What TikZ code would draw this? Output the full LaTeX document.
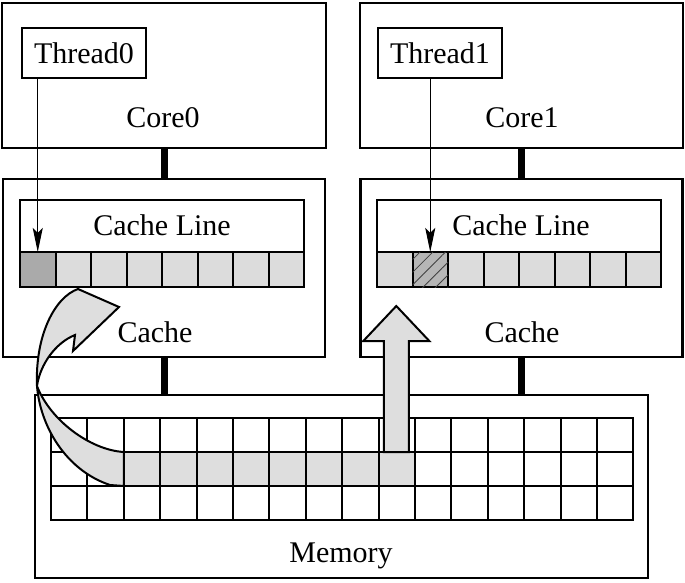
\documentclass[tikz,border=0pt]{standalone}
\usepackage{fontspec}
\setmainfont{Liberation Serif}
\usetikzlibrary{positioning, arrows.meta, calc, patterns.meta}
\definecolor{cellgray}{RGB}{220,220,220}
\definecolor{hitgray}{RGB}{170,170,170}
\definecolor{hatchgray}{RGB}{182,182,182}
\definecolor{flowgray}{RGB}{222,222,222}

\begin{document}
\begin{tikzpicture}[x=1pt, y=-1pt,
    box/.style={draw, line width=2.2pt, inner sep=0pt, outer sep=0pt},
    lbl/.style={font=\fontsize{30}{34}\selectfont, inner sep=0pt, anchor=base},
    cell/.style={draw, line width=2pt, fill=cellgray, minimum width=35.5pt,
                 minimum height=35pt, inner sep=0pt, outer sep=0pt},
    mcell/.style={draw, line width=2pt, minimum width=36.4pt,
                  minimum height=34pt, inner sep=0pt, outer sep=0pt},
    bus/.style={line width=7pt},
    probe/.style={line width=1pt, -{Stealth[length=24pt, width=10pt, inset=5pt]}},
    flow/.style={draw, line width=2pt, fill=flowgray, line join=miter}
  ]
  \useasboundingbox (0,0) rectangle (685,583);

  % cores and caches
  \node[box, minimum width=324pt, minimum height=145pt] (core0) at (164,75.5) {};
  \node[box, minimum width=323pt, minimum height=145pt] (core1) at (521.5,75.5) {};
  \node[box, minimum width=322pt, minimum height=178pt] (cache0) at (164,268) {};
  \node[box, minimum width=322pt, minimum height=178pt] (cache1) at (521.5,268) {};

  % threads
  \node[box, font=\fontsize{30}{34}\selectfont, minimum width=124pt, minimum height=50pt] (t0) at (84,53) {Thread0};
  \node[box, font=\fontsize{30}{34}\selectfont, minimum width=124pt, minimum height=50pt] (t1) at (440,53) {Thread1};

  % cache lines
  \node[box, minimum width=284pt, minimum height=87pt] (cline0) at (162,243.5) {};
  \node[box, minimum width=284pt, minimum height=87pt] (cline1) at (519,243.5) {};
  \node[cell, fill=hitgray] (cl0-0) at (37.75,269.5) {};
  \foreach \i in {1,...,7}
    \node[cell] (cl0-\i) at ({20+35.5*(\i+0.5)},269.5) {};
  \foreach \i in {0,2,3,4,5,6,7}
    \node[cell] (cl1-\i) at ({377+35.5*(\i+0.5)},269.5) {};
  \node[cell, fill=hatchgray, postaction={pattern={Lines[angle=45, distance=9pt, line width=0.8pt]},
        pattern color=black!75}] (cl1-1) at (430.25,269.5) {};

  % memory
  \node[box, minimum width=613pt, minimum height=183pt] (mem) at (341.5,486.5) {};
  \fill[flowgray] (124,452) rectangle (415,486);
  \foreach \r in {0,1,2}
    \foreach \c in {0,...,15}
      \node[mcell] (m-\r-\c) at ({51+36.4*(\c+0.5)},{418+34*(\r+0.5)}) {};

  % buses
  \draw[bus] (core0.south) -- (cache0.north);
  \draw[bus] (core1.south) -- (cache1.north);
  \draw[bus] (cache0.south) -- (cache0.south |- mem.north);
  \draw[bus] (cache1.south) -- (cache1.south |- mem.north);

  % thread accesses
  \draw[probe] (cl0-0.north |- t0.south) -- (cl0-0.north);
  \draw[probe] (cl1-1.north |- t1.south) -- (cl1-1.north);

  % labels
  \node[lbl] (core0lbl) at (163,128) {Core0};
  \node[lbl] (core1lbl) at (522,128) {Core1};
  \node[lbl] (cline0lbl) at (162,235) {Cache Line};
  \node[lbl] (cline1lbl) at (521,235) {Cache Line};
  \node[lbl] (cache0lbl) at (155,342) {Cache};
  \node[lbl] (cache1lbl) at (522,342) {Cache};
  \node[lbl] (memlbl) at (341,562) {Memory};

  % loads from memory
  \coordinate (upfoot) at (m-1-9.north);
  \draw[flow] ($(upfoot)+(-13,0)$) -- ++(0,-111) -- ++(-20.5,0) -- ++(33,-35)
    -- ++(33,35) -- ++(-20.5,0) -- ++(0,111) -- cycle;
  \coordinate (twist) at (37,386);
  \draw[flow] (m-1-2.north west) .. controls (90,450) and (50,420) .. (twist)
    .. controls (40,365) and (55,343) .. (75,335)
    -- (73,351) -- (119,307) -- (78,289)
    .. controls (55,297) and (35,335) .. (twist)
    .. controls (40,425) and (65,470) .. (110,485) -- (m-1-2.south west) -- cycle;
\end{tikzpicture}
\end{document}
